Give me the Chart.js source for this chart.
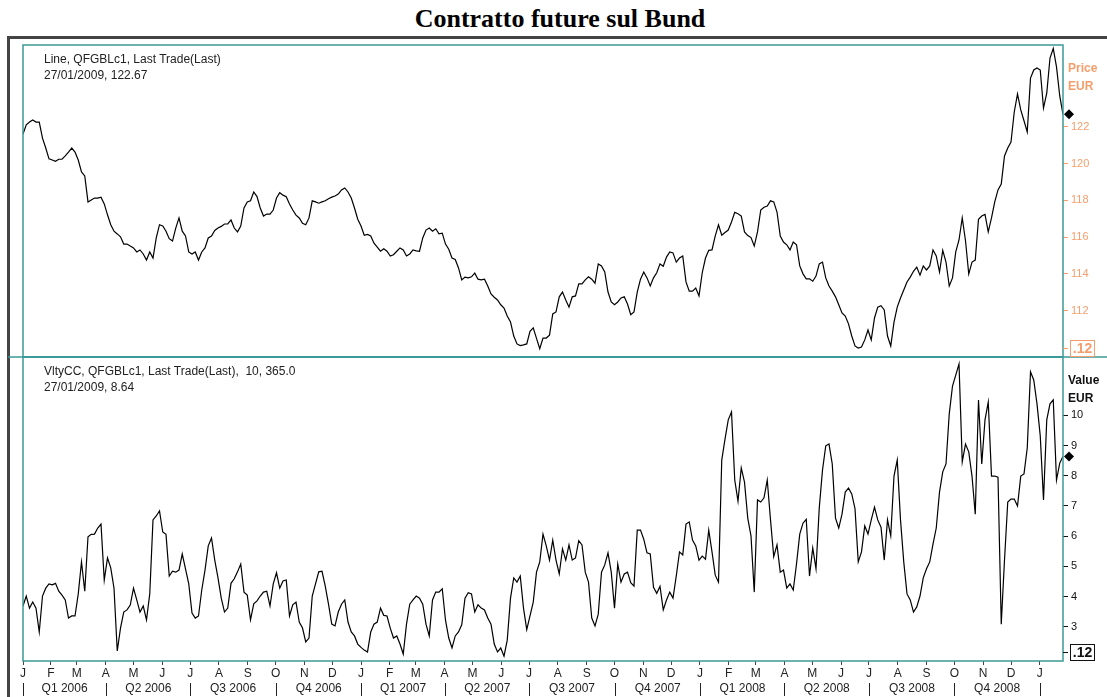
<!DOCTYPE html>
<html>
<head>
<meta charset="utf-8">
<title>Contratto future sul Bund</title>
<script src="https://cdn.jsdelivr.net/npm/chart.js@4.4.0/dist/chart.umd.min.js"></script>
<style>
  body { margin: 0; background: #fff; width: 1107px; height: 697px; overflow: hidden; position: relative;
         font-family: "Liberation Sans", Arial, sans-serif; }
  #title { position: absolute; left: 0; width: 1120px; top: 4px; text-align: center; line-height: 30px;
           font: bold 26px "Liberation Serif", "Times New Roman", serif; color: #000; }
  canvas { position: absolute; left: 0; top: 0; }
  .frame { position: absolute; background: #444; }
  .legend { position: absolute; left: 44px; font-size: 12px; line-height: 16px; color: #222; white-space: pre; }
</style>
</head>
<body>
<div id="title">Contratto future sul Bund</div>
<div class="frame" style="left:7px;top:36px;width:1100px;height:3px"></div>
<div class="frame" style="left:7px;top:36px;width:3px;height:661px"></div>
<canvas id="vltyChart" width="1107" height="697"></canvas>
<canvas id="priceChart" width="1107" height="697"></canvas>
<div class="legend" style="top:51px">Line, QFGBLc1, Last Trade(Last)
27/01/2009, 122.67</div>
<div class="legend" style="top:363px">VltyCC, QFGBLc1, Last Trade(Last),  10, 365.0
27/01/2009, 8.64</div>

<script>
/* Bund future: price line on top, 10-day volatility below.
   Two readings per week, Jan 2006 - Jan 2009. */

// ── Data ─────────────────────────────────────────────────────────────────────
const priceValues = [
  121.6, 122.1, 122.25, 122.36, 122.25, 122.25, 121.38, 120.84, 120.25, 120.19,
  120.12, 120.23, 120.23, 120.41, 120.62, 120.84, 120.62, 120.19, 119.54, 119.32,
  117.91, 118.02, 118.12, 118.12, 118.17, 117.8, 117.21, 116.67, 116.32, 116.17,
  116.01, 115.62, 115.62, 115.51, 115.41, 115.19, 115.3, 115.08, 114.75, 115.19,
  114.86, 115.95, 116.67, 116.6, 116.32, 115.91, 115.78, 116.49, 117.04, 116.32,
  116.06, 115.19, 115.08, 115.19, 114.75, 115.19, 115.41, 115.95, 116.06, 116.36,
  116.49, 116.58, 116.71, 116.71, 116.93, 116.49, 116.28, 116.6, 117.58, 117.91,
  117.97, 118.45, 118.2, 117.58, 117.14, 117.25, 117.25, 117.47, 118.12, 118.41,
  118.28, 118.19, 117.8, 117.47, 117.19, 117.04, 116.75, 116.67, 117.04, 117.97,
  117.91, 117.84, 117.91, 117.97, 118.08, 118.17, 118.23, 118.34, 118.56, 118.67,
  118.45, 118.12, 117.58, 116.97, 116.6, 116.1, 116.14, 116.06, 115.67, 115.45,
  115.23, 115.36, 115.23, 114.97, 115.04, 115.23, 115.41, 115.3, 114.97, 115.08,
  115.3, 115.25, 115.23, 115.95, 116.38, 116.49, 116.32, 116.45, 116.17, 116.21,
  115.62, 115.34, 114.86, 114.78, 114.32, 113.67, 113.82, 113.78, 113.84, 114.04,
  113.71, 113.67, 113.71, 113.34, 112.91, 112.73, 112.58, 112.32, 112.14, 111.71,
  111.38, 110.62, 110.19, 110.1, 110.14, 110.19, 110.88, 111.06, 110.49, 109.93,
  110.51, 110.51, 110.67, 111.82, 111.93, 112.75, 113.01, 112.58, 112.19, 112.75,
  112.8, 113.45, 113.45, 113.67, 113.84, 113.71, 113.49, 114.54, 114.43, 114.1,
  113.01, 112.47, 112.32, 112.47, 112.69, 112.75, 112.36, 111.78, 111.93, 113.01,
  113.71, 114.1, 113.78, 113.34, 113.78, 114.06, 114.54, 114.41, 114.91, 115.19,
  115.14, 114.64, 114.86, 114.97, 113.56, 113.06, 113.06, 113.23, 112.8, 114.06,
  114.86, 115.28, 115.3, 116.06, 116.67, 116.1, 116.25, 116.38, 116.82, 117.34,
  117.27, 117.14, 116.28, 116.08, 115.97, 115.51, 116.28, 117.47, 117.62, 117.69,
  117.97, 117.91, 117.36, 116.06, 115.73, 115.58, 115.3, 115.73, 115.58, 114.43,
  114.0, 113.73, 113.73, 113.6, 113.88, 114.54, 114.64, 113.78, 113.34, 113.06,
  112.75, 112.32, 111.88, 111.71, 111.28, 110.62, 110.08, 109.97, 110.02, 110.41,
  110.95, 110.41, 111.6, 112.19, 112.27, 112.04, 110.62, 110.08, 111.38, 112.19,
  112.69, 113.12, 113.56, 113.82, 114.14, 114.36, 113.93, 114.43, 114.21, 114.43,
  115.3, 114.97, 114.1, 115.28, 114.64, 113.34, 113.78, 115.19, 115.84, 117.04,
  115.8, 113.99, 114.64, 114.75, 116.97, 117.14, 117.23, 116.28, 117.04, 117.91,
  118.56, 118.88, 120.41, 120.84, 121.17, 122.8, 123.78, 122.91, 122.32, 121.71,
  124.64, 125.08, 125.19, 125.08, 123.01, 123.82, 125.73, 126.25, 125.25, 123.67,
  122.67
];

const vltyValues = [
  3.69, 4.02, 3.62, 3.82, 3.62, 2.83, 4.02, 4.28, 4.42, 4.39,
  4.44, 4.18, 4.05, 3.89, 3.29, 3.36, 3.36, 4.09, 5.15, 4.18,
  5.98, 6.06, 6.07, 6.27, 6.4, 4.55, 5.28, 4.95, 4.28, 2.2,
  2.96, 3.49, 3.56, 3.72, 4.28, 3.89, 3.49, 3.69, 3.23, 4.09,
  6.54, 6.67, 6.84, 6.14, 6.06, 4.68, 4.84, 4.81, 4.88, 5.41,
  4.92, 4.42, 3.46, 3.29, 3.36, 4.22, 4.88, 5.68, 5.94, 5.21,
  4.62, 3.95, 3.49, 3.62, 4.44, 4.59, 4.82, 5.08, 4.15, 4.05,
  3.23, 3.76, 3.86, 4.02, 4.15, 4.18, 3.69, 4.42, 4.79, 4.28,
  4.52, 4.55, 3.36, 3.73, 3.82, 3.16, 2.96, 2.5, 2.63, 4.02,
  4.42, 4.82, 4.84, 4.35, 3.75, 3.09, 3.03, 3.49, 3.75, 3.89,
  3.16, 2.83, 2.7, 2.43, 2.32, 2.23, 2.17, 2.83, 3.09, 3.16,
  3.62, 3.38, 3.36, 2.96, 2.63, 2.7, 2.43, 2.1, 3.09, 3.75,
  3.89, 4.02, 3.95, 3.75, 3.09, 2.7, 3.89, 4.15, 4.15, 4.26,
  3.22, 2.63, 2.3, 2.7, 2.83, 3.07, 3.95, 4.13, 4.09, 3.49,
  3.73, 3.62, 3.56, 3.29, 3.09, 2.43, 2.17, 2.3, 2.03, 2.56,
  3.95, 4.62, 4.48, 4.68, 3.62, 2.91, 3.36, 3.82, 4.81, 5.15,
  6.07, 5.68, 5.21, 5.87, 5.21, 4.75, 5.58, 5.21, 5.71, 5.21,
  5.28, 5.85, 5.71, 4.81, 4.48, 3.29, 3.03, 3.42, 4.81, 5.05,
  5.45, 4.81, 3.62, 5.08, 4.48, 4.75, 4.81, 4.46, 4.35, 6.2,
  6.2, 5.9, 5.45, 5.41, 4.31, 4.11, 4.34, 3.56, 3.89, 4.15,
  3.95, 4.68, 5.48, 5.38, 6.4, 6.47, 5.87, 5.68, 5.21, 5.34,
  5.24, 6.2, 5.48, 4.71, 4.48, 8.52, 9.21, 9.85, 10.11, 7.86,
  7.16, 8.26, 7.79, 6.6, 6.01, 4.15, 7.2, 7.13, 7.27, 7.86,
  6.54, 5.32, 5.71, 4.81, 4.88, 4.28, 4.42, 4.22, 5.08, 6.07,
  6.43, 6.56, 4.68, 5.61, 4.92, 6.93, 8.19, 8.99, 9.05, 8.39,
  6.6, 6.27, 6.73, 7.46, 7.59, 7.4, 6.91, 5.15, 5.48, 6.34,
  6.07, 6.54, 6.96, 6.54, 6.3, 5.21, 6.54, 6.01, 7.99, 8.52,
  6.54, 5.15, 4.09, 3.89, 3.49, 3.66, 4.02, 4.62, 4.92, 5.15,
  5.74, 6.27, 7.46, 8.13, 8.39, 10.05, 10.97, 11.33, 11.7, 8.46,
  9.05, 8.79, 7.99, 6.73, 10.51, 8.39, 9.85, 10.44, 7.99, 7.99,
  7.95, 3.09, 5.21, 7.13, 7.23, 7.23, 7.0, 7.99, 8.06, 8.92,
  11.44, 11.17, 10.38, 9.32, 7.2, 9.85, 10.38, 10.51, 7.86, 8.42,
  8.64
];

const monthLetters  = 'JFMAMJJASONDJFMAMJJASONDJFMAMJJASONDJ'.split('');
const quarterLabels = ['Q1 2006', 'Q2 2006', 'Q3 2006', 'Q4 2006',
                       'Q1 2007', 'Q2 2007', 'Q3 2007', 'Q4 2007',
                       'Q1 2008', 'Q2 2008', 'Q3 2008', 'Q4 2008'];
const priceTicks = [112, 114, 116, 118, 120, 122];
const vltyTicks  = [3, 4, 5, 6, 7, 8, 9, 10];

// ── Time axis (days since first session, 2 Jan 2006) ─────────────────────────
const START = Date.UTC(2006, 0, 2);
const DAY = 86400000;
const STEP_DAYS = 3.5;
const sampleDays = priceValues.map((_, i) => i * STEP_DAYS);
const monthDays  = monthLetters.map((_, i) => Math.max(0, (Date.UTC(2006, i, 1) - START) / DAY));
const X_MAX = sampleDays[sampleDays.length - 1];

// ── Styling ──────────────────────────────────────────────────────────────────
const TEAL   = '#3a9a98';
const ORANGE = '#f59e6c';
const FONT   = '"Liberation Sans", Arial, sans-serif';

function toPoints(values) {
  return values.map((v, i) => ({ x: sampleDays[i], y: v }));
}

/** Frame, unit caption, last-value marker and scale box of one panel */
function panelDecor(opts) {
  return {
    id: 'panelDecor',
    afterDraw(chart) {
      const { ctx, chartArea: a, scales: { y } } = chart;
      ctx.save();

      ctx.strokeStyle = TEAL;
      ctx.lineWidth = 1.5;
      ctx.strokeRect(a.left, a.top, a.right - a.left, a.bottom - a.top);
      if (opts.splitLine) {
        ctx.beginPath();
        ctx.moveTo(8, a.bottom);
        ctx.lineTo(1107, a.bottom);
        ctx.stroke();
      }

      // unit caption
      ctx.fillStyle = opts.color;
      ctx.font = 'bold 12px ' + FONT;
      ctx.textAlign = 'left';
      ctx.textBaseline = 'middle';
      ctx.fillText(opts.unit[0], a.right + 5, a.top + 24);
      ctx.fillText(opts.unit[1], a.right + 5, a.top + 42);

      // last value diamond
      const dy = y.getPixelForValue(opts.last);
      const dx = a.right + 6;
      ctx.fillStyle = '#000';
      ctx.beginPath();
      ctx.moveTo(dx, dy - 5);
      ctx.lineTo(dx + 5, dy);
      ctx.lineTo(dx, dy + 5);
      ctx.lineTo(dx - 5, dy);
      ctx.closePath();
      ctx.fill();

      // ".12" scale box
      const by = a.bottom - 17;
      ctx.strokeStyle = opts.color;
      ctx.lineWidth = 1;
      ctx.beginPath();
      ctx.moveTo(a.right, by + 8.5);
      ctx.lineTo(a.right + 5, by + 8.5);
      ctx.stroke();
      ctx.strokeRect(a.right + 7.5, by + 0.5, 24, 16);
      ctx.fillStyle = opts.color;
      ctx.font = 'bold 14px ' + FONT;
      ctx.textAlign = 'center';
      ctx.fillText('.12', a.right + 19.5, by + 9);

      ctx.restore();
    }
  };
}

// Quarter names and separators under the month letters
const quarterRow = {
  id: 'quarterRow',
  afterDraw(chart) {
    const { ctx, scales: { x } } = chart;
    const starts = monthDays.filter((_, i) => i % 3 === 0);
    ctx.save();
    ctx.font = '12px ' + FONT;
    ctx.fillStyle = '#222';
    ctx.strokeStyle = '#222';
    ctx.lineWidth = 1;
    ctx.textAlign = 'center';
    ctx.textBaseline = 'middle';
    starts.forEach((d, i) => {
      const px = Math.round(x.getPixelForValue(d)) + 0.5;
      ctx.beginPath();
      ctx.moveTo(px, 683);
      ctx.lineTo(px, 696);
      ctx.stroke();
      if (i < quarterLabels.length) {
        const mid = (px + x.getPixelForValue(starts[i + 1])) / 2;
        ctx.fillText(quarterLabels[i], mid, 689);
      }
    });
    ctx.restore();
  }
};

function yAxis(min, max, ticks, color) {
  return {
    position: 'right',
    min, max,
    afterFit: s => { s.width = 44; },
    afterBuildTicks: s => { s.ticks = ticks.map(v => ({ value: v })); },
    border: { display: false },
    grid: { drawOnChartArea: false, drawTicks: true, tickLength: 5, color, lineWidth: 1 },
    ticks: { color, padding: 3, font: { size: 11, family: FONT } }
  };
}

const lineStyle = { borderColor: '#000', borderWidth: 1.2, pointRadius: 0, tension: 0, fill: false };

// ── Price panel ──────────────────────────────────────────────────────────────
new Chart(document.getElementById('priceChart'), {
  type: 'line',
  data: { datasets: [{ ...lineStyle, data: toPoints(priceValues) }] },
  options: {
    responsive: false,
    animation: false,
    events: [],
    layout: { padding: { left: 23, top: 45, right: 0, bottom: 340 } },
    plugins: { legend: { display: false }, tooltip: { enabled: false } },
    scales: {
      x: { type: 'linear', min: 0, max: X_MAX, display: false },
      y: yAxis(109.48, 126.44, priceTicks, ORANGE)
    }
  },
  plugins: [panelDecor({ color: ORANGE, unit: ['Price', 'EUR'], last: priceValues[priceValues.length - 1], splitLine: true })]
});

// ── Volatility panel ─────────────────────────────────────────────────────────
new Chart(document.getElementById('vltyChart'), {
  type: 'line',
  data: { datasets: [{ ...lineStyle, data: toPoints(vltyValues) }] },
  options: {
    responsive: false,
    animation: false,
    events: [],
    layout: { padding: { left: 23, top: 357, right: 0, bottom: 0 } },
    plugins: { legend: { display: false }, tooltip: { enabled: false } },
    scales: {
      x: {
        type: 'linear', min: 0, max: X_MAX,
        afterFit: s => { s.height = 36; },
        afterBuildTicks: s => { s.ticks = monthDays.map(v => ({ value: v })); },
        border: { display: false },
        grid: { drawOnChartArea: false, drawTicks: true, tickLength: 4, color: '#444' },
        ticks: {
          autoSkip: false, maxRotation: 0, padding: 1, color: '#222',
          font: { size: 12, family: FONT },
          callback: (v, i) => monthLetters[i]
        }
      },
      y: yAxis(1.87, 11.93, vltyTicks, '#111')
    }
  },
  plugins: [panelDecor({ color: '#111', unit: ['Value', 'EUR'], last: vltyValues[vltyValues.length - 1] }), quarterRow]
});
</script>
</body>
</html>
